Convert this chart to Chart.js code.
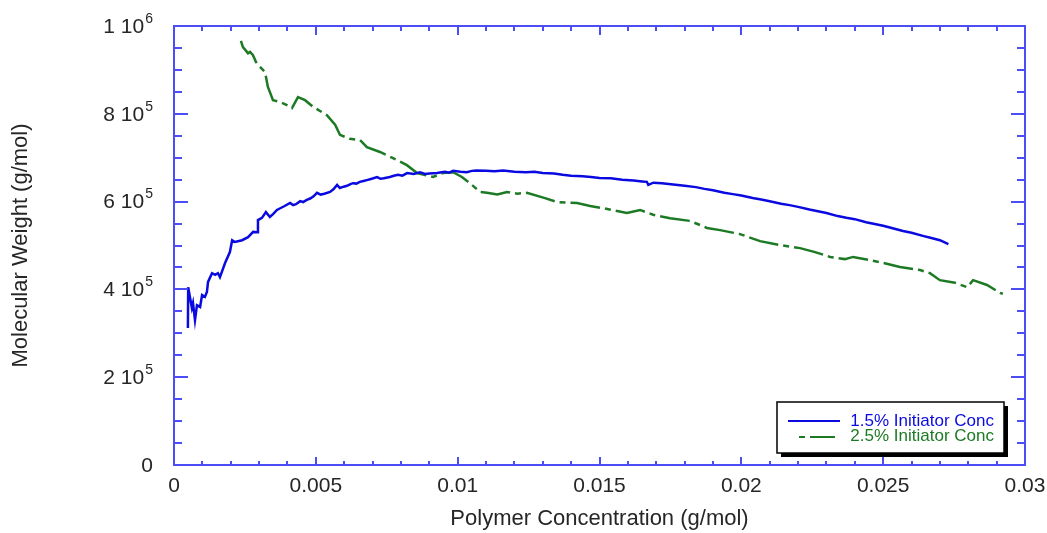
<!DOCTYPE html>
<html>
<head>
<meta charset="utf-8">
<script src="https://cdn.jsdelivr.net/npm/chart.js@4"></script>
<style>
  html, body { margin: 0; padding: 0; background: #ffffff; }
  #wrap { width: 1047px; height: 533px; }
</style>
</head>
<body>
<div id="wrap"><canvas id="c" width="1047" height="533"></canvas></div>
<script>
// ---- data ----
const seriesNames = ['1.5% Initiator Conc', '2.5% Initiator Conc'];

const conc15 = [0.00049, 0.00050, 0.00063, 0.00067, 0.00074, 0.00081, 0.00092, 0.00099, 0.00109, 0.00116,
  0.00120, 0.00134, 0.00145, 0.00155, 0.00162, 0.00180, 0.00197, 0.00205, 0.00215, 0.00240,
  0.00261, 0.00279, 0.00293, 0.00296, 0.00310, 0.00324, 0.00338, 0.00350, 0.00363, 0.00378, 0.00390, 0.00409,
  0.00420, 0.00430, 0.00445, 0.00455, 0.00468, 0.00480, 0.00492, 0.00504, 0.00517, 0.00530, 0.00550, 0.00562, 0.00575, 0.00585, 0.00598, 0.00610, 0.00622, 0.00631,
  0.00643, 0.00655, 0.00668, 0.00680, 0.00697, 0.00716, 0.00728, 0.00740, 0.00761, 0.00775, 0.00790, 0.00805, 0.00822, 0.00845, 0.00867, 0.00885, 0.00900,
  0.00927, 0.00955, 0.00970, 0.00984, 0.01010, 0.01032, 0.01050, 0.01065, 0.01100, 0.01130, 0.01160, 0.01200,
  0.01240, 0.01270, 0.01300, 0.01340, 0.01370, 0.01400, 0.01440, 0.01470, 0.01500, 0.01540,
  0.01580, 0.01620, 0.01650, 0.01667, 0.01672, 0.01690, 0.01720, 0.01760, 0.01800, 0.01840,
  0.01870, 0.01900, 0.01940, 0.01970, 0.02000, 0.02040, 0.02070, 0.02100, 0.02140, 0.02170,
  0.02200, 0.02240, 0.02270, 0.02300, 0.02340, 0.02370, 0.02400, 0.02440, 0.02470, 0.02500,
  0.02540, 0.02570, 0.02600, 0.02640, 0.02670, 0.02700, 0.02730];
const mw15 = [312000, 405000, 358000, 369000, 330000, 364000, 360000, 387000, 383000, 394000,
  417000, 437000, 433000, 437000, 428000, 460000, 485000, 512000, 508000, 512000,
  519000, 531000, 530000, 558000, 563000, 576000, 565000, 572000, 581000, 586000, 590000, 597000,
  592000, 594000, 601000, 599000, 604000, 607000, 612000, 620000, 616000, 618000, 622000, 628000, 638000, 631000, 634000, 636000, 640000, 642000,
  641000, 645000, 647000, 649000, 652000, 656000, 652000, 653000, 656000, 659000, 661000, 659000, 665000, 663000, 667000, 663000, 664000,
  665000, 668000, 666000, 670000, 668000, 667000, 670000, 671000, 670000, 669000, 671000, 668000,
  667000, 668000, 665000, 664000, 661000, 659000, 658000, 656000, 654000, 653000,
  650000, 648000, 646000, 645000, 638000, 643000, 642000, 639000, 636000, 633000,
  629000, 626000, 620000, 617000, 614000, 608000, 605000, 601000, 595000, 592000,
  588000, 582000, 578000, 574000, 567000, 563000, 560000, 553000, 549000, 545000,
  538000, 533000, 529000, 522000, 517000, 512000, 503000];

const conc25 = [0.00236, 0.00243, 0.00252, 0.00261, 0.00268, 0.00278, 0.00289, 0.00303, 0.00321, 0.00331, 0.00349,
  0.00374, 0.00398, 0.00416, 0.00437, 0.00462, 0.00490, 0.00539, 0.00568, 0.00585, 0.00620,
  0.00656, 0.00680, 0.00726, 0.00772, 0.00821, 0.00857, 0.00913, 0.00948, 0.00984, 0.01015,
  0.01043, 0.01079, 0.01103, 0.01140, 0.01174, 0.01210, 0.01244, 0.01308, 0.01350, 0.01421, 0.01467, 0.01512,
  0.01597, 0.01643, 0.01689, 0.01749, 0.01819, 0.01879, 0.01925, 0.01995, 0.02066, 0.02136,
  0.02207, 0.02260, 0.02313, 0.02365, 0.02394, 0.02489, 0.02559, 0.02630, 0.02665, 0.02700,
  0.02753, 0.02796, 0.02817, 0.02866, 0.02912, 0.02922];
const mw25 = [966000, 952000, 945000, 938000, 941000, 934000, 918000, 907000, 895000, 861000, 831000,
  827000, 820000, 813000, 838000, 831000, 816000, 797000, 775000, 752000, 743000,
  740000, 724000, 713000, 699000, 683000, 665000, 656000, 665000, 667000, 656000,
  642000, 622000, 620000, 616000, 622000, 618000, 620000, 608000, 599000, 597000, 590000, 585000,
  574000, 581000, 570000, 562000, 556000, 540000, 535000, 526000, 510000, 501000,
  494000, 485000, 474000, 469000, 474000, 462000, 451000, 444000, 437000, 421000,
  415000, 405000, 421000, 410000, 392000, 390000];

const xTickLabels = ['0', '0.005', '0.01', '0.015', '0.02', '0.025', '0.03'];
const yTickValues = [0, 200000, 400000, 600000, 800000, 1000000];
const yTickLabels = ['0', '2 10', '4 10', '6 10', '8 10', '1 10'];
const yTickExponents = ['', '5', '5', '5', '5', '6'];
const xTitle = 'Polymer Concentration (g/mol)';
const yTitle = 'Molecular Weight (g/mol)';

// ---- styles ----
const blue = '#0a0ae0';
const green = '#1d7a24';
const axisColor = '#4d4df7';
const textColor = '#262626';
const FONT = "'Liberation Sans', Arial, sans-serif";

function toPoints(xs, ys) { return xs.map((v, i) => ({ x: v, y: ys[i] })); }
function noOverflow(s) { s.paddingTop = 0; s.paddingBottom = 0; s.paddingLeft = 0; s.paddingRight = 0; }

const frame = {
  id: 'frame',
  afterDraw(chart) {
    const { ctx, chartArea: a, scales: { x, y } } = chart;
    ctx.save();
    ctx.strokeStyle = axisColor;
    ctx.lineWidth = 2;
    ctx.strokeRect(a.left, a.top, a.right - a.left, a.bottom - a.top);
    ctx.beginPath();
    for (let i = 0; i <= 30; i++) {
      const px = Math.round(x.getPixelForValue(i * 0.001));
      const major = i % 5 === 0;
      ctx.moveTo(px, a.bottom); ctx.lineTo(px, a.bottom - (major ? 8 : 4));
      ctx.moveTo(px, a.top); ctx.lineTo(px, a.top + (major ? 9 : 5));
    }
    for (let j = 0; j <= 20; j++) {
      const py = Math.round(y.getPixelForValue(j * 50000));
      const major = j % 4 === 0;
      ctx.moveTo(a.left, py); ctx.lineTo(a.left + (major ? 14 : 8), py);
      ctx.moveTo(a.right, py); ctx.lineTo(a.right - (major ? 14 : 8), py);
    }
    ctx.stroke();

    // y tick labels with raised exponents
    const rightEdge = a.left - 21;
    ctx.fillStyle = textColor;
    ctx.textBaseline = 'middle';
    yTickValues.forEach((v, k) => {
      const py = y.getPixelForValue(v);
      const exp = yTickExponents[k];
      ctx.font = '14px ' + FONT;
      const ew = exp ? ctx.measureText(exp).width : 0;
      if (exp) { ctx.textAlign = 'right'; ctx.fillText(exp, rightEdge, py - 7); }
      ctx.font = '21px ' + FONT;
      ctx.textAlign = 'right';
      ctx.fillText(yTickLabels[k], rightEdge - ew - (exp ? 1 : 0), py + 1);
    });

    // legend box
    const bx = 777, by = 402, bw = 227, bh = 51;
    ctx.fillStyle = '#000';
    ctx.fillRect(bx + 4, by + 4, bw, bh);
    ctx.fillStyle = '#fff';
    ctx.fillRect(bx, by, bw, bh);
    ctx.strokeStyle = '#000';
    ctx.lineWidth = 1.5;
    ctx.strokeRect(bx, by, bw, bh);

    ctx.lineWidth = 2;
    ctx.strokeStyle = blue;
    ctx.setLineDash([]);
    ctx.beginPath(); ctx.moveTo(788, 421); ctx.lineTo(840, 421); ctx.stroke();
    ctx.strokeStyle = green;
    ctx.beginPath(); ctx.moveTo(799, 437); ctx.lineTo(805, 437);
    ctx.moveTo(810, 437); ctx.lineTo(835, 437); ctx.stroke();

    ctx.font = '17px ' + FONT;
    ctx.textAlign = 'right';
    ctx.textBaseline = 'middle';
    ctx.fillStyle = blue;
    ctx.fillText(seriesNames[0], 994, 421);
    ctx.fillStyle = green;
    ctx.fillText(seriesNames[1], 994, 436);
    ctx.restore();
  }
};

new Chart(document.getElementById('c'), {
  type: 'scatter',
  data: {
    datasets: [
      { label: seriesNames[0], data: toPoints(conc15, mw15), showLine: true, borderColor: blue,
        backgroundColor: blue, borderWidth: 2.5, pointRadius: 0, tension: 0 },
      { label: seriesNames[1], data: toPoints(conc25, mw25), showLine: true, borderColor: green,
        backgroundColor: green, borderWidth: 2.5, pointRadius: 0, tension: 0, borderDash: [30, 5, 6, 5] }
    ]
  },
  options: {
    responsive: false,
    animation: false,
    devicePixelRatio: 1,
    layout: { padding: { left: 0, right: 22, top: 26, bottom: 0 } },
    plugins: { legend: { display: false }, tooltip: { enabled: false } },
    scales: {
      x: {
        type: 'linear', min: 0, max: 0.03,
        afterFit(s) { s.height = 68; noOverflow(s); },
        grid: { display: false, drawTicks: false },
        border: { display: false },
        ticks: {
          stepSize: 0.005, padding: 9, color: textColor, maxRotation: 0,
          font: { family: FONT, size: 21 },
          callback: (v, i) => xTickLabels[i]
        },
        title: { display: true, text: xTitle, color: textColor, font: { family: FONT, size: 22 }, padding: { top: 0, bottom: 1 } }
      },
      y: {
        type: 'linear', min: 0, max: 1000000,
        afterFit(s) { s.width = 174; noOverflow(s); },
        grid: { display: false, drawTicks: false },
        border: { display: false },
        ticks: { display: false, stepSize: 200000 },
        title: { display: true, text: yTitle, color: textColor, font: { family: FONT, size: 22 }, padding: { top: 8, bottom: 0 } }
      }
    }
  },
  plugins: [frame]
});
</script>
</body>
</html>
